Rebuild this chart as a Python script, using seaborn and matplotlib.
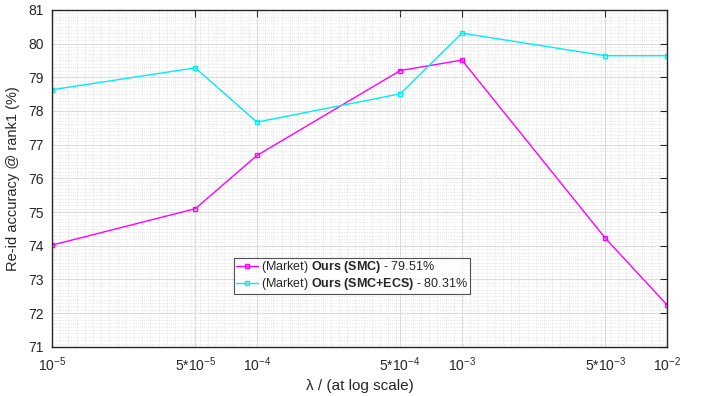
import numpy as np
import pandas as pd
import matplotlib
matplotlib.use('Agg')
import matplotlib.pyplot as plt
import matplotlib.ticker as mticker
import seaborn as sns

# data
lambdas = [1e-5, 5e-5, 1e-4, 5e-4, 1e-3, 5e-3, 1e-2]
tick_labels = [r'$10^{-5}$', r'$5{*}10^{-5}$', r'$10^{-4}$', r'$5{*}10^{-4}$',
               r'$10^{-3}$', r'$5{*}10^{-3}$', r'$10^{-2}$']
smc = [74.02, 75.10, 76.68, 79.20, 79.51, 74.23, 72.25]
smc_ecs = [78.63, 79.28, 77.67, 78.51, 80.31, 79.64, 79.64]
series_names = [r'(Market) $\mathbf{Ours\ (SMC)}$ - 79.51%',
                r'(Market) $\mathbf{Ours\ (SMC{+}ECS)}$ - 80.31%']

df = pd.DataFrame({
    'lam': lambdas * 2,
    'acc': smc + smc_ecs,
    'method': [series_names[0]] * len(lambdas) + [series_names[1]] * len(lambdas),
})

sns.set_style('white')
plt.rcParams['font.family'] = ['Liberation Sans', 'DejaVu Sans']
plt.rcParams['mathtext.fontset'] = 'custom'
plt.rcParams['mathtext.rm'] = 'Liberation Sans'
plt.rcParams['mathtext.it'] = 'Liberation Sans:italic'
plt.rcParams['mathtext.bf'] = 'Liberation Sans:bold'

fig = plt.figure(figsize=(7.02, 3.96), dpi=100)
ax = fig.add_axes([0.074, 0.124, 0.876, 0.851])

sns.lineplot(data=df, x='lam', y='acc', hue='method', palette=['#ff00ff', '#00eeee'],
             marker='s', markersize=3.5, markerfacecolor='none', markeredgewidth=1,
             linewidth=1, ax=ax)
for ln in ax.lines:
    ln.set_markeredgecolor(ln.get_color())

ax.set_xscale('log')
ax.set_xlim(1e-5, 1e-2)
ax.set_ylim(71, 81)
ax.set_xticks(lambdas)
ax.set_xticklabels(tick_labels)
ax.set_yticks(np.arange(71, 82, 1))
ax.xaxis.set_minor_locator(mticker.FixedLocator(10 ** np.linspace(-5, -2, 76)))
ax.xaxis.set_minor_formatter(mticker.NullFormatter())
ax.yaxis.set_minor_locator(mticker.MultipleLocator(0.1))

ax.grid(which='major', color='#dcdcdc', linewidth=0.8, linestyle='-')
ax.grid(which='minor', color='#d0d0d0', linewidth=0.5, linestyle=(0, (1, 2)))
ax.set_axisbelow(True)

ax.tick_params(which='major', direction='in', length=5, width=0.8, top=True, right=True,
               labelsize=10, colors='#262626', pad=6)
ax.tick_params(which='minor', length=0)
for s in ax.spines.values():
    s.set_color('#262626')
    s.set_linewidth(1)

ax.set_xlabel('λ / (at log scale)', fontsize=11, color='#262626', labelpad=4)
ax.set_ylabel('Re-id accuracy @ rank1 (%)', fontsize=10.5, color='#262626', labelpad=6)

leg = ax.legend(loc='lower left', bbox_to_anchor=(0.296, 0.157), fontsize=9,
                frameon=True, fancybox=False, handlelength=1.8, handletextpad=0.2,
                borderpad=0.15, labelspacing=0.05, borderaxespad=0)
leg.get_frame().set_edgecolor('#262626')
leg.get_frame().set_linewidth(0.8)
for h in leg.get_lines():
    h.set_markeredgecolor(h.get_color())

fig.savefig('out.png', dpi=100)
